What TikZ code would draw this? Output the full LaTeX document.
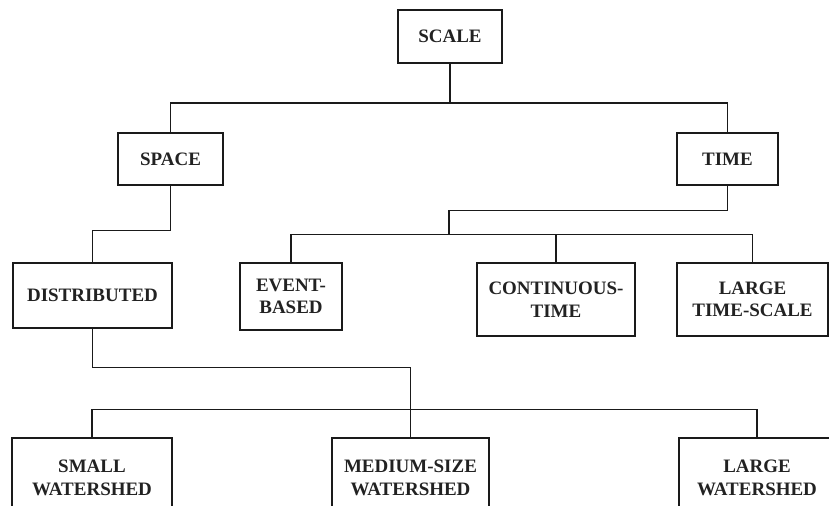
\documentclass[tikz,border=0pt]{standalone}
\usepackage{fontspec}
\setmainfont{Liberation Serif}
\usepackage{xcolor}
\definecolor{linec}{HTML}{1A1A1A}
\definecolor{textc}{HTML}{222222}

\begin{document}
\begin{tikzpicture}[x=0.025cm, y=-0.025cm,
    font=\bfseries\fontsize{13.5}{16}\selectfont,
    box/.style={draw=linec, line width=1pt, text=textc, align=center, inner sep=2pt},
    link/.style={draw=linec, line width=1pt}]
  \useasboundingbox (0,0) rectangle (829,506);
  \clip (0,0) rectangle (829,506);

  % top levels
  \node[box, minimum width=104*0.025cm, minimum height=53*0.025cm] (scale) at (450,36.5) {SCALE};
  \node[box, minimum width=105*0.025cm, minimum height=52*0.025cm] (space) at (170.5,159) {SPACE};
  \node[box, minimum width=101*0.025cm, minimum height=52*0.025cm] (time) at (727.5,159) {TIME};

  % time branches
  \node[box, minimum width=159*0.025cm, minimum height=65*0.025cm] (distributed) at (92.5,295.5) {DISTRIBUTED};
  \node[box, minimum width=102*0.025cm, minimum height=67*0.025cm] (event) at (291,296.5) {EVENT-\\BASED};
  \node[box, minimum width=158*0.025cm, minimum height=73*0.025cm] (continuous) at (556,299.5) {CONTINUOUS-\\TIME};
  \node[box, minimum width=151*0.025cm, minimum height=73*0.025cm] (largetime) at (752.5,299.5) {LARGE\\TIME-SCALE};

  % watershed sizes (cut by the lower edge)
  \node[box, minimum width=160*0.025cm, minimum height=80*0.025cm] (small) at (92,478) {SMALL\\WATERSHED};
  \node[box, minimum width=157*0.025cm, minimum height=80*0.025cm] (medium) at (410.5,478) {MEDIUM-SIZE\\WATERSHED};
  \node[box, minimum width=156*0.025cm, minimum height=80*0.025cm] (largews) at (757,478) {LARGE\\WATERSHED};

  % connectors
  \coordinate (sbus) at (450,103);
  \coordinate (tbus) at (449,235);
  \draw[link] (scale.south) -- (sbus);
  \draw[link] (space.north) |- (sbus) -| (time.north);
  \draw[link] (space.south) -- ++(0,45) -| (distributed.north);
  \draw[link] (time.south) -- ++(0,25) -| (tbus);
  \draw[link] (event.north) -- ++(0,-28) -| (largetime.north);
  \draw[link] (continuous.north) -- (continuous.north |- tbus);
  \draw[link] (distributed.south) -- ++(0,39) -| (medium.north);
  \draw[link] (small.north) -- ++(0,-28) -| (largews.north);
\end{tikzpicture}
\end{document}
